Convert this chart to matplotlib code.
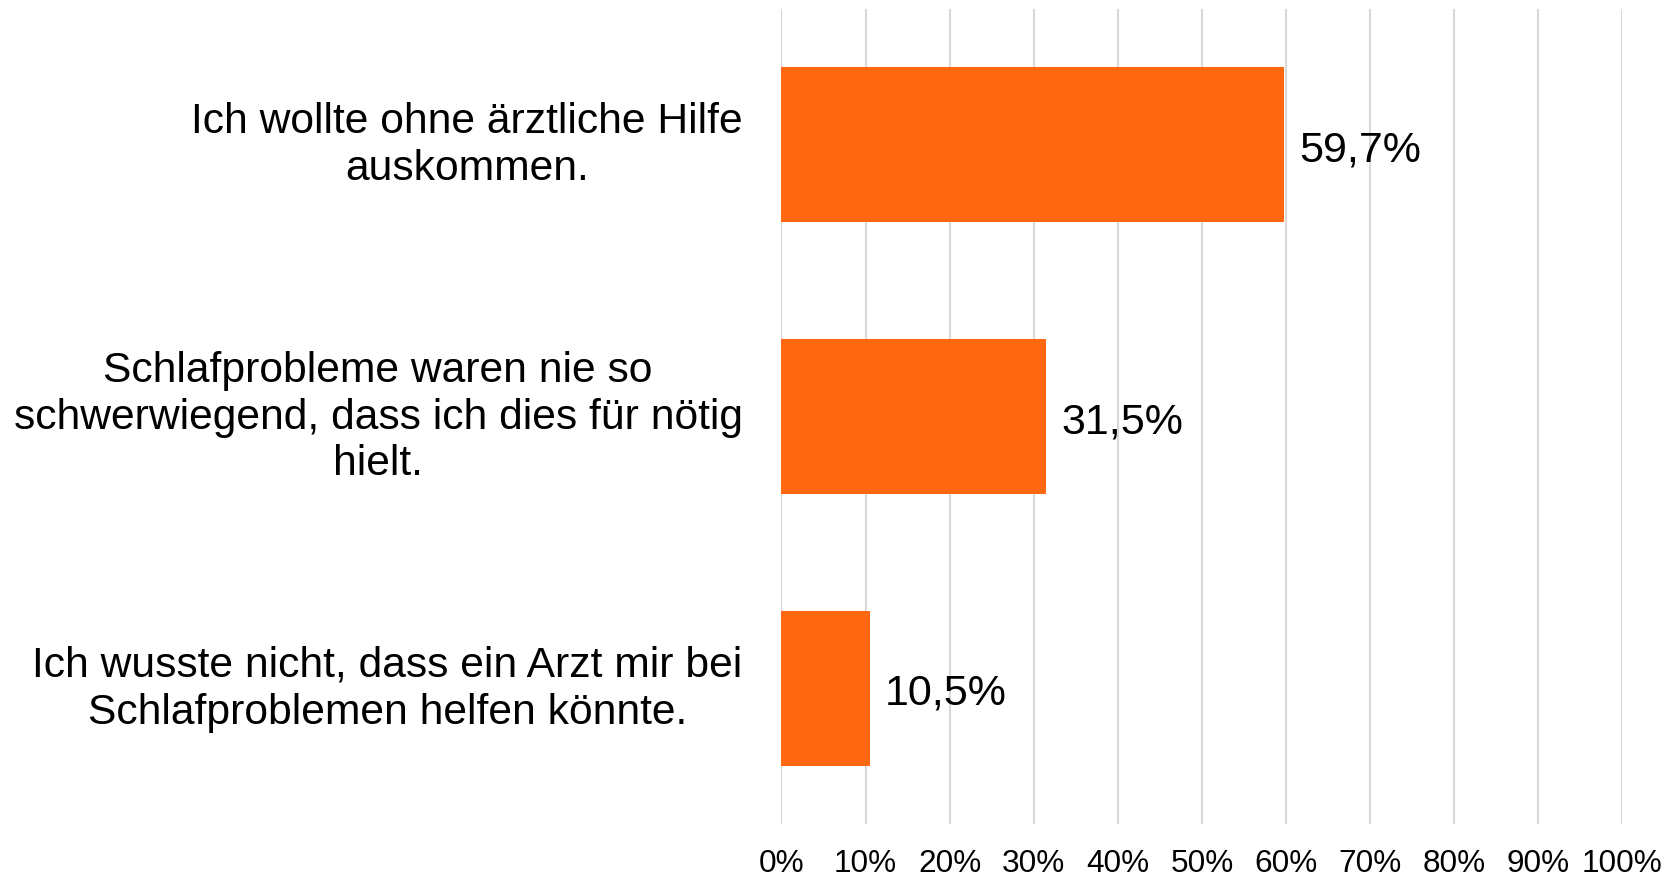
import matplotlib
matplotlib.use('Agg')
import matplotlib.pyplot as plt
import numpy as np

plt.rcParams['font.family'] = ['Liberation Sans', 'DejaVu Sans']

# Data
categories = [
    'Ich wollte ohne ärztliche Hilfe\nauskommen.',
    'Schlafprobleme waren nie so\nschwerwiegend, dass ich dies für nötig\nhielt.',
    'Ich wusste nicht, dass ein Arzt mir bei\nSchlafproblemen helfen könnte.',
]
values = [59.7, 31.5, 10.5]
value_labels = ['59,7%', '31,5%', '10,5%']
tick_values = list(range(0, 101, 10))
tick_labels = [f'{t}%' for t in tick_values]

bar_color = '#ff6810'
grid_color = '#d9d9d9'

fig = plt.figure(figsize=(16.74, 8.79), dpi=100)
ax = fig.add_axes([0.4668, 0.0614, 0.5024, 0.9272])

y = np.arange(len(categories))
ax.barh(y, values, height=0.57, color=bar_color, zorder=3)

ax.set_xlim(0, 100)
ax.set_ylim(len(categories) - 0.5, -0.5)

ax.set_xticks(tick_values)
ax.set_xticklabels(tick_labels, fontsize=22.7)
ax.tick_params(axis='x', length=0, pad=17)
ax.set_yticks([])

ax.grid(axis='x', color=grid_color, linewidth=1.5, zorder=0)
for s in ax.spines.values():
    s.set_visible(False)

# category labels, left of the axis
for yi, cat in zip(y, categories):
    ax.annotate(cat, xy=(0, yi), xycoords='data', xytext=(-28, 0),
                textcoords='offset points', ha='right', va='center',
                multialignment='center', fontsize=30.7, linespacing=1.22)

# value labels
for yi, v, lab in zip(y, values, value_labels):
    ax.annotate(lab, xy=(v, yi), xytext=(11, 0), textcoords='offset points',
                ha='left', va='center_baseline', fontsize=31)

plt.savefig('out.png', dpi=100)
